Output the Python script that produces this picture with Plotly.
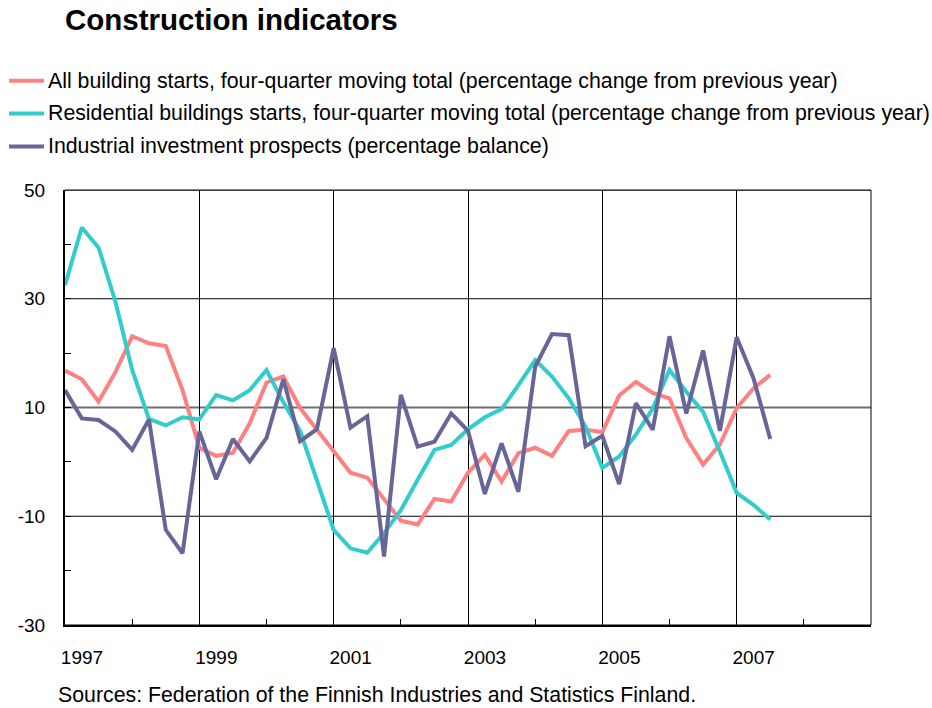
import pandas as pd
import plotly.graph_objects as go

# Quarterly observations, 1997Q1 - 2007Q3
quarters = [str(p) for p in pd.period_range("1997Q1", "2007Q3", freq="Q")]

all_starts = [16.8, 15.2, 11.1, 16.5, 23.1, 21.8, 21.3, 13.2, 2.6, 1.1, 1.7,
              7.1, 14.6, 15.7, 9.9, 5.9, 1.8, -2.0, -2.9, -7.0, -10.8, -11.5,
              -6.8, -7.3, -2.0, 1.3, -3.6, 1.6, 2.6, 1.1, 5.7, 5.9, 5.5, 12.2,
              14.7, 12.7, 11.7, 4.4, -0.5, 3.2, 9.9, 13.5, 16.0]

residential_starts = [32.5, 43.1, 39.4, 29.5, 16.9, 7.9, 6.7, 8.2, 7.8, 12.3,
                      11.3, 13.2, 16.9, 11.0, 5.7, -3.3, -12.5, -15.9, -16.7,
                      -13.1, -8.9, -3.3, 2.2, 3.1, 6.0, 8.2, 9.7, 14.1, 18.7,
                      15.7, 11.7, 6.5, -1.1, 1.0, 5.0, 9.8, 16.9, 12.9, 9.2,
                      1.9, -5.7, -7.9, -10.6]

industrial_prospects = [13.2, 8.0, 7.7, 5.6, 2.2, 7.8, -12.5, -16.8, 5.6, -3.2,
                        4.2, 0.1, 4.4, 15.2, 3.8, 6.0, 20.9, 6.3, 8.4, -17.4,
                        12.3, 2.8, 3.7, 8.9, 5.7, -5.9, 3.4, -5.5, 17.5, 23.5,
                        23.3, 2.9, 4.8, -4.1, 10.8, 5.9, 23.1, 8.9, 20.5, 5.7,
                        22.9, 15.4, 4.2]

series_names = [
    "All building starts, four-quarter moving total (percentage change from previous year)",
    "Residential buildings starts, four-quarter moving total (percentage change from previous year)",
    "Industrial investment prospects (percentage balance)",
]
series_colors = ["#FF8080", "#33CCCC", "#666699"]

year_ticks = [1997, 1999, 2001, 2003, 2005, 2007]
y_ticks = [-30, -10, 10, 30, 50]
y_tick_labels = ["-30", "-10", "10", "30", "50"]

# quarter label -> fractional year position on the time axis
x_pos = [int(q[:4]) + (int(q[-1]) - 1) / 4 for q in quarters]

FONT = "Liberation Sans, Arial, sans-serif"
W, H = 932, 708
L, R, T, B = 65, 61, 190, 83
plot_w, plot_h = W - L - R, H - T - B


def px_to_paper(px, py):
    return (px - L) / plot_w, (H - B - py) / plot_h


fig = go.Figure()
for vals, name, col in zip([all_starts, residential_starts, industrial_prospects],
                           series_names, series_colors):
    fig.add_trace(go.Scatter(x=x_pos, y=vals, mode="lines", name=name,
                             line=dict(color=col, width=4), showlegend=False))

shapes = []
annotations = []

# hand-built legend: short line sample followed by the series name
legend_rows = [80.7, 113.5, 146.5]
for name, col, ry in zip(series_names, series_colors, legend_rows):
    x0, y0 = px_to_paper(9, ry)
    x1, _ = px_to_paper(44, ry)
    shapes.append(dict(type="line", xref="paper", yref="paper", x0=x0, x1=x1,
                       y0=y0, y1=y0, line=dict(color=col, width=4)))
    tx, _ = px_to_paper(46, ry)
    annotations.append(dict(xref="paper", yref="paper", x=tx, y=y0, text=name,
                            showarrow=False, xanchor="left", yanchor="middle",
                            font=dict(family=FONT, size=21.3, color="black")))

# horizontal grid lines; the one at 10 is drawn in grey
for v in y_ticks:
    shapes.append(dict(type="line", xref="paper", yref="y", x0=0, x1=1, y0=v, y1=v,
                       layer="below",
                       line=dict(color="#6E6E6E" if v == 10 else "black",
                                 width=2 if v == 10 else 1)))
# thin frame on top and right
shapes.append(dict(type="line", xref="paper", yref="paper", x0=0, x1=1, y0=1, y1=1,
                   line=dict(color="black", width=1)))
shapes.append(dict(type="line", xref="paper", yref="paper", x0=1, x1=1, y0=0, y1=1,
                   line=dict(color="black", width=1)))

sx, sy = px_to_paper(56, 695)
annotations.append(dict(xref="paper", yref="paper", x=sx, y=sy,
                        text="Sources: Federation of the Finnish Industries and Statistics Finland.",
                        showarrow=False, xanchor="left", yanchor="middle",
                        font=dict(family=FONT, size=21.3, color="black")))

fig.update_layout(
    width=W, height=H,
    margin=dict(l=L, r=R, t=T, b=B, pad=0),
    paper_bgcolor="white", plot_bgcolor="white",
    title=dict(text="<b>Construction indicators</b>", xref="container", yref="container",
               x=65 / W, xanchor="left", y=1 - 20 / H, yanchor="middle",
               font=dict(family=FONT, size=29.5, color="black")),
    shapes=shapes, annotations=annotations,
    font=dict(family=FONT, color="black"),
)

fig.update_xaxes(
    range=[1997, 2009], tickmode="array", tickvals=year_ticks,
    ticktext=[str(y) for y in year_ticks],
    ticks="inside", ticklen=6, tickcolor="black",
    ticklabelshift=17, ticklabelstandoff=14,
    showgrid=True, gridcolor="black", gridwidth=1,
    minor=dict(dtick=1, tick0=1997, ticks="inside", ticklen=6, tickcolor="black",
               showgrid=False),
    showline=True, linecolor="black", linewidth=2, zeroline=False,
    tickfont=dict(family=FONT, size=19, color="black"),
)
fig.update_yaxes(
    range=[-30, 50], tickmode="array", tickvals=y_ticks, ticktext=y_tick_labels,
    ticks="inside", ticklen=6, tickcolor="black",
    ticklabelstandoff=14,
    showgrid=False,
    minor=dict(dtick=10, tick0=0, ticks="inside", ticklen=6, tickcolor="black",
               showgrid=False),
    showline=True, linecolor="black", linewidth=2, zeroline=False,
    tickfont=dict(family=FONT, size=19, color="black"),
)

fig.write_html("out.html")
